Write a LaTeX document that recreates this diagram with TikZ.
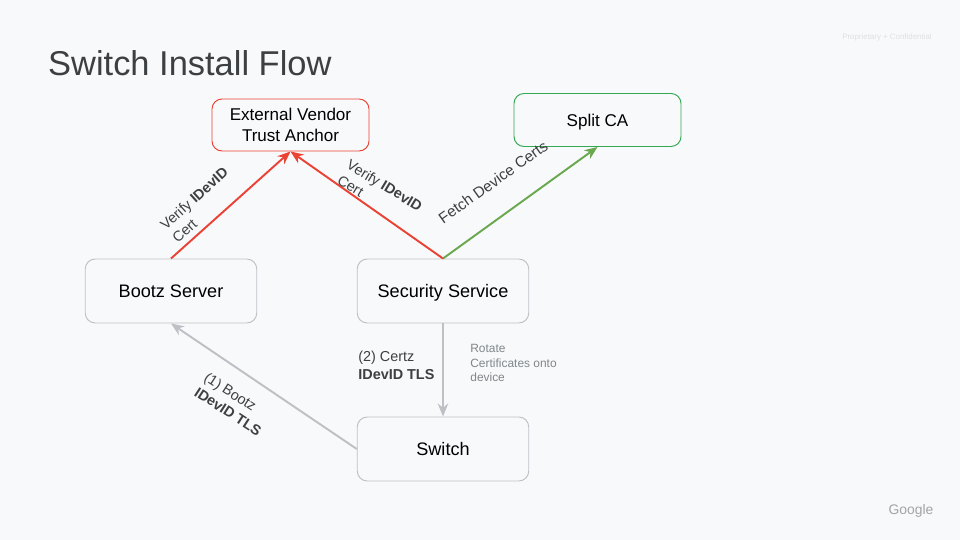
\documentclass[tikz,border=0pt]{standalone}
\usepackage{fontspec}
\setmainfont{Liberation Sans}
\usepackage{xcolor}
\usetikzlibrary{positioning,arrows.meta}
\definecolor{slidebg}{HTML}{F8F9FA}
\definecolor{boxgray}{HTML}{BDC1C6}
\definecolor{redline}{HTML}{EA4335}
\definecolor{greenbox}{HTML}{34A853}
\definecolor{greenline}{HTML}{6AA84F}
\definecolor{inktext}{HTML}{3C4043}
\definecolor{softtext}{HTML}{80868B}
\begin{document}
\begin{tikzpicture}[
	box/.style={draw=boxgray, rounded corners=0.2cm, line width=0.55pt, align=center, text=black, text depth=0pt, minimum width=3.43cm, minimum height=1.28cm, font=\fontsize{10.3}{12}\selectfont},
	redbox/.style={box, draw=redline, minimum width=3.14cm, minimum height=1.04cm, font=\fontsize{9.7}{12}\selectfont},
	greenbox/.style={box, draw=greenbox, minimum width=3.34cm, minimum height=1.06cm, font=\fontsize{9.7}{12}\selectfont},
	arrow/.style={-{Stealth[length=0.26cm,width=0.21cm]}, line width=1.1pt},
	labeltext/.style={font=\fontsize{8.2}{10.2}\selectfont, text=inktext, align=left, inner sep=0pt},
	notetext/.style={font=\fontsize{6.8}{8.2}\selectfont, text=softtext, align=left, inner sep=0pt}
	]
	\useasboundingbox[fill=slidebg] (0,0) rectangle (19.2,10.8);

	% ===== TITLE =====
	\node[text=inktext, font=\fontsize{19.6}{22}\selectfont, anchor=west] (title) at (0.84,9.54) {Switch Install Flow};
	\node[text=black!12, font=\fontsize{4.5}{5}\selectfont] (conf) at (17.74,10.06) {Proprietary + Confidential};
	\node[text=boxgray!85!black, font=\fontsize{7.9}{9}\selectfont] (logo) at (18.22,0.58) {Google};

	% ===== BOXES =====
	\node[redbox] (Anchor) at (5.81,8.30) {External Vendor\\Trust Anchor};
	\node[greenbox] (SplitCA) at (11.95,8.40) {Split CA};
	\node[box] (Bootz) at (3.42,4.98) {Bootz Server};
	\node[box] (Security) at (8.86,4.98) {Security Service};
	\node[box] (Switch) at (8.86,1.82) {Switch};

	% ===== ARROWS =====
	\draw[arrow, redline] (Bootz.north) -- (Anchor.south);
	\draw[arrow, redline] (Security.north) -- (Anchor.south);
	\draw[arrow, greenline] (Security.north) -- (SplitCA.south);
	\draw[arrow, boxgray] (Security.south) -- (Switch.north);
	\draw[arrow, boxgray] (Switch.west) -- (Bootz.south);

	% ===== LABELS =====
	\node[labeltext, rotate=42] (lblVerifyL) at (4.00,6.70) {Verify \textbf{IDevID}\\Cert};
	\node[labeltext, rotate=-31] (lblVerifyR) at (7.60,6.94) {Verify \textbf{IDevID}\\Cert};
	\node[labeltext, font=\fontsize{8.7}{10.2}\selectfont, rotate=35.5] (lblFetch) at (9.86,7.16) {Fetch Device Certs};
	\node[labeltext, rotate=-33] (lblBootz) at (4.66,2.72) {(1) Bootz\\\textbf{IDevID TLS}};
	\node[labeltext, anchor=west] (lblCertz) at (7.16,3.50) {(2) Certz\\\textbf{IDevID TLS}};
	\node[notetext, anchor=west] (lblRotate) at (9.40,3.54) {Rotate\\Certificates onto\\device};
\end{tikzpicture}
\end{document}
